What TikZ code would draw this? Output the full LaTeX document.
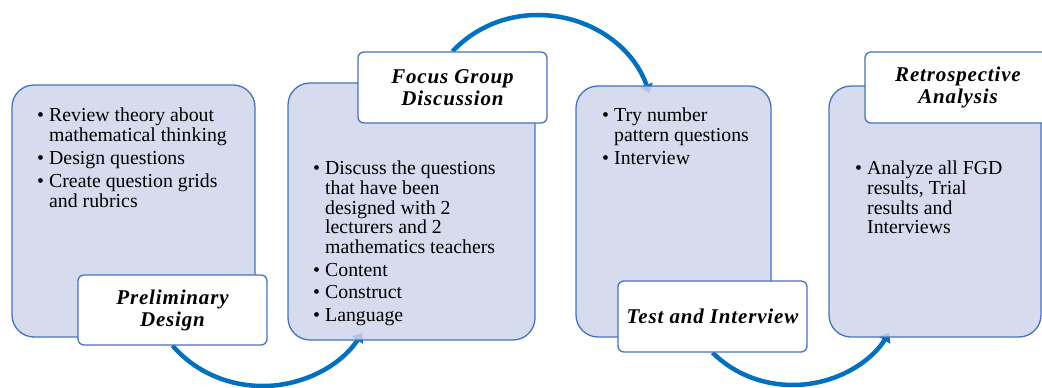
\documentclass[tikz,border=0pt]{standalone}
\usepackage{fontspec}
\setmainfont{Liberation Serif}
\newfontfamily\labfont{Liberation Serif}[LetterSpace=4]
\usetikzlibrary{calc,arrows.meta,backgrounds}
\definecolor{boxfill}{HTML}{CFD5EA}
\definecolor{boxline}{HTML}{4472C4}
\definecolor{flowblue}{HTML}{0070C0}
\newcommand\bodyfont{\fontsize{19.8}{19.6}\selectfont\setbox\strutbox\hbox{\vrule height 13.7pt depth 5.9pt width 0pt}}
\newcommand\labelfont{\labfont\bfseries\itshape\fontsize{21}{22}\selectfont}
\newcommand\bul{\makebox[12pt][l]{\textbullet}}
\tikzset{
  stagebox/.style={draw=boxline, fill=boxfill, fill opacity=0.85, line width=1.3pt,
    rounded corners=22pt, inner sep=0pt, rectangle},
  stagelabel/.style={draw=boxline, fill=white, line width=1.3pt, rounded corners=6pt,
    inner sep=0pt, align=center, font=\labelfont, minimum height=71pt},
  bodytext/.style={anchor=base west, inner sep=0pt, font=\bodyfont},
  flow/.style={draw=flowblue, line width=4.5pt, -{Triangle[width=13pt,length=9pt]}}
}
\begin{document}
\begin{tikzpicture}[x=1pt,y=1pt]
\useasboundingbox (0,0) rectangle (1042,388);
% big boxes
\node[stagebox, minimum width=243pt, minimum height=252pt] (b1) at (133.5,177) {};
\node[stagebox, minimum width=247pt, minimum height=257pt] (b2) at (411.5,176.5) {};
\node[stagebox, minimum width=195pt, minimum height=251pt] (b3) at (673.5,176.5) {};
\node[stagebox, minimum width=212pt, minimum height=251pt] (b4) at (935,176.5) {};
% body texts
\node[bodytext] (t1) at (37,266) {\begin{tabular}[t]{@{}l@{}l@{}}
\bul & Review theory about\\ & mathematical thinking\\[3.4pt]
\bul & Design questions\\[3.4pt]
\bul & Create question grids\\ & and rubrics
\end{tabular}};
\node[bodytext] (t2) at (313,213) {\begin{tabular}[t]{@{}l@{}l@{}}
\bul & Discuss the questions\\ & that have been\\ & designed with 2\\ & lecturers and 2\\ & mathematics teachers\\[3pt]
\bul & Content\\[3pt]
\bul & Construct\\[3pt]
\bul & Language
\end{tabular}};
\node[bodytext] (t3) at (602,266) {\begin{tabular}[t]{@{}l@{}l@{}}
\bul & Try number\\ & pattern questions\\[3pt]
\bul & Interview
\end{tabular}};
\node[bodytext] (t4) at (855,213) {\begin{tabular}[t]{@{}l@{}l@{}}
\bul & Analyze all FGD\\ & results, Trial\\ & results and\\ & Interviews
\end{tabular}};
% labels
\node[stagelabel, minimum width=189pt, minimum height=70pt] (l1) at (172.5,78) {Preliminary\\Design};
\node[stagelabel, minimum width=189pt] (l2) at (452.5,300.5) {Focus Group\\Discussion};
\node[stagelabel, minimum width=189pt] (l3) at (712.5,71.5) {Test and Interview};
\node[stagelabel, minimum width=186pt] (l4) at (958,300.5) {Retrospective\\Analysis};
% connectors
\coordinate (c1) at (263,2);
\coordinate (c2) at (538,373);
\coordinate (c3) at (793,3);
\coordinate (e1) at ($(b2.south west)+(75,8)$);
\coordinate (e2) at ($(b3.north west)+(74,-8)$);
\coordinate (e3) at ($(b4.south west)+(61,5)$);
\begin{pgfonlayer}{background}
\draw[flow] (l1.south) to[out=-49,in=180,looseness=0.9] (c1) to[out=0,in=-123,looseness=0.9] (e1);
\draw[flow] (l2.north) to[out=46.5,in=180,looseness=0.9] (c2) to[out=0,in=109,looseness=0.95] (e2);
\draw[flow] (l3.south) to[out=-44.5,in=180,looseness=0.9] (c3) to[out=0,in=-122.6,looseness=0.9] (e3);
\end{pgfonlayer}
\end{tikzpicture}
\end{document}
